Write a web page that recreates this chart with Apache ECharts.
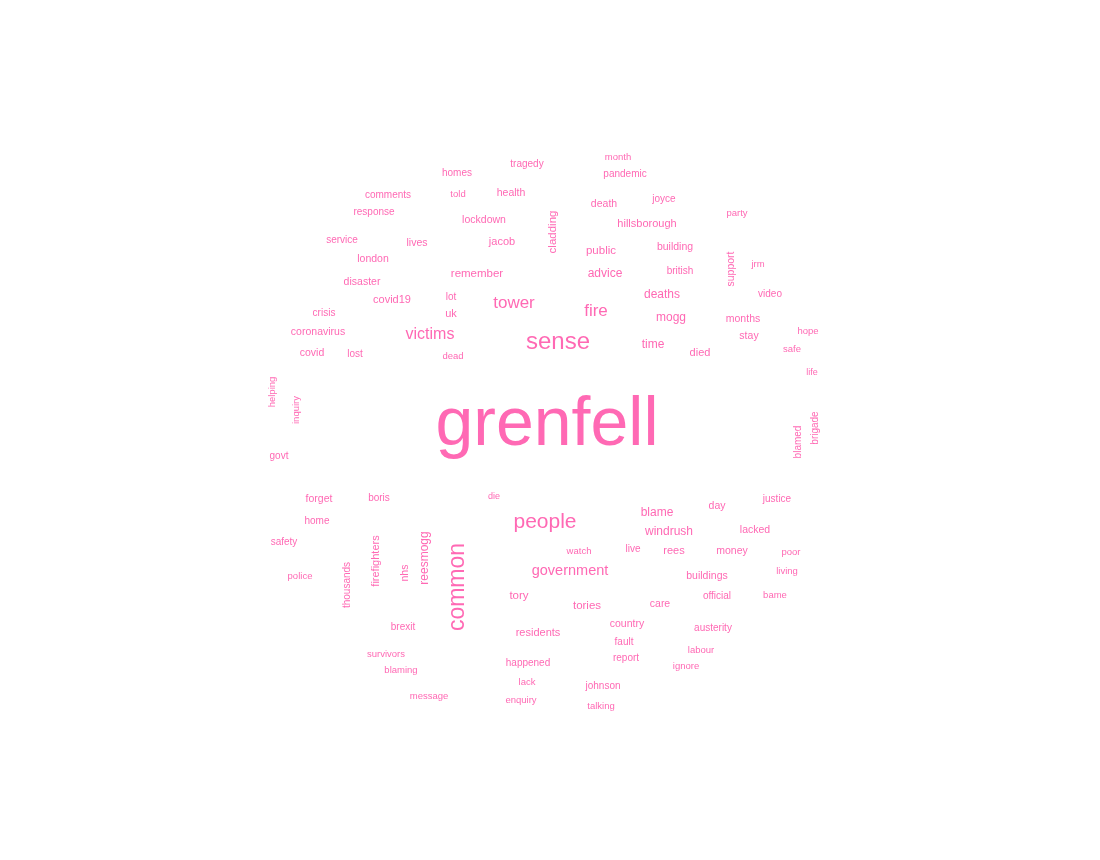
<!DOCTYPE html>
<html>
<head>
<meta charset="utf-8">
<script src="https://cdn.jsdelivr.net/npm/echarts@6/dist/echarts.min.js"></script>
<style>
html,body{margin:0;padding:0;background:#ffffff;}
#chart{width:1100px;height:860px;}
</style>
</head>
<body>
<div id="chart"></div>
<script>
// Words in the cloud
const words = [
  "grenfell","sense","common","people","tower","fire","victims","government",
  "windrush","blame","remember","deaths","mogg","advice","time","reesmogg",
  "cladding","public","jacob","tory","tories","residents","firefighters","died",
  "uk","covid19","hillsborough","rees","country","lockdown","building","buildings",
  "money","months","death","stay","day","lives","support","forget",
  "care","health","london","disaster","covid","coronavirus","nhs","lacked",
  "british","brexit","report","joyce","happened","official","tragedy","crisis",
  "lost","lot","video","boris","home","justice","austerity","thousands",
  "govt","blamed","homes","pandemic","safety","fault","brigade","comments",
  "response","service","live","johnson","survivors","lack","dead","watch",
  "poor","living","police","party","jrm","enquiry","bame","labour",
  "helping","told","month","safe","ignore","inquiry","hope","blaming",
  "message","talking","die","life"
];
// Estimated word frequencies (drive font size)
const counts = [
  122,34,32,28,20,20,18,15,
  10,10,9,10,10,10,10,10,
  9,9,8,9,9,8,8,8,
  8,8,8,8,7,7,7,7,
  7,7,7,7,7,7,7,7,
  7,7,7,7,7,7,7,7,
  6,6,6,6,6,6,6,6,
  6,6,6,6,6,6,6,6,
  6,6,6,6,6,6,6,6,
  6,6,6,6,5,5,5,5,
  5,5,5,5,5,5,5,5,
  5,5,5,5,5,5,5,5,
  5,5,4,4
];
// Cloud layout: [x, y, vertical(1) / horizontal(0)] in layout units
const layout = [
  [547,426,0],[558,342,0],[458,587,1],[545,522,0],[514,303,0],[596,311,0],[430,335,0],[570,571,0],
  [669,532,0],[657,513,0],[477,274,0],[662,295,0],[671,318,0],[605,274,0],[653,345,0],[425,558,1],
  [553,232,1],[601,251,0],[502,242,0],[519,596,0],[587,606,0],[538,633,0],[376,561,1],[700,353,0],
  [451,314,0],[392,300,0],[647,224,0],[674,551,0],[627,624,0],[484,220,0],[675,247,0],[707,576,0],
  [732,551,0],[743,319,0],[604,204,0],[749,336,0],[717,506,0],[417,243,0],[731,269,1],[319,499,0],
  [660,604,0],[511,193,0],[373,259,0],[362,282,0],[312,353,0],[318,332,0],[405,573,1],[755,530,0],
  [680,271,0],[403,627,0],[626,658,0],[664,199,0],[528,663,0],[717,596,0],[527,164,0],[324,313,0],
  [355,354,0],[451,297,0],[770,294,0],[379,498,0],[317,521,0],[777,499,0],[713,628,0],[347,585,1],
  [279,456,0],[798,442,1],[457,173,0],[625,174,0],[284,542,0],[624,642,0],[815,428,1],[388,195,0],
  [374,212,0],[342,240,0],[633,549,0],[603,686,0],[386,654,0],[527,682,0],[453,356,0],[579,551,0],
  [791,552,0],[787,571,0],[300,576,0],[737,213,0],[758,264,0],[521,700,0],[775,595,0],[701,650,0],
  [272,392,1],[458,194,0],[618,157,0],[792,349,0],[686,666,0],[296,410,1],[808,331,0],[401,670,0],
  [429,696,0],[601,706,0],[494,497,0],[812,373,0]
];

const data = words.map((w, i) => [layout[i][0], layout[i][1], counts[i], layout[i][2], w]);

function fontSizeOf(c) { return 10 + (c - 6) * 0.5; }

const chart = echarts.init(document.getElementById('chart'), null, {renderer: 'canvas'});
chart.setOption({
  animation: false,
  backgroundColor: '#ffffff',
  grid: {left: 0, right: 0, top: 0, bottom: 0},
  xAxis: {type: 'value', min: 0, max: 1100, show: false},
  yAxis: {type: 'value', min: 0, max: 860, inverse: true, show: false},
  series: [{
    type: 'custom',
    data: data,
    renderItem: function (params, api) {
      const p = api.coord([api.value(0), api.value(1)]);
      const vertical = api.value(3) === 1;
      return {
        type: 'text',
        x: p[0],
        y: p[1],
        rotation: vertical ? Math.PI / 2 : 0,
        style: {
          text: data[params.dataIndex][4],
          fontSize: fontSizeOf(api.value(2)),
          fontFamily: '"Liberation Sans", Arial, Helvetica, sans-serif',
          fill: '#ff69b4',
          align: 'center',
          verticalAlign: 'middle'
        }
      };
    }
  }]
});
</script>
</body>
</html>
